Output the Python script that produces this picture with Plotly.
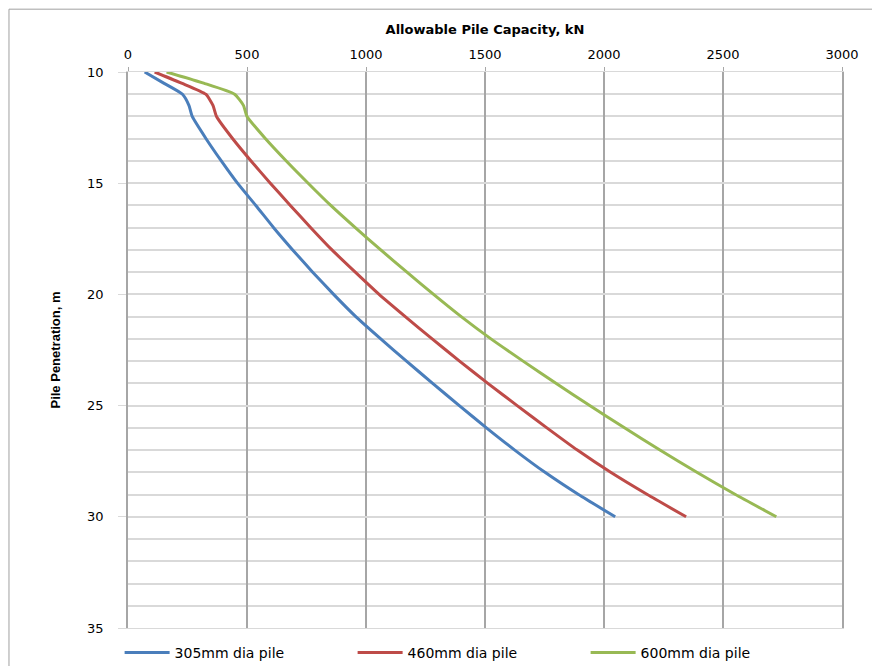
import plotly.graph_objects as go

depth_m = [10, 10.5, 11, 11.5, 12, 13, 14, 15, 16, 17, 18, 19, 20,
           21, 22, 23, 24, 25, 26, 27, 28, 29, 30]

cap_305 = [70, 150, 229, 256, 270, 328, 392, 460, 537, 612, 692, 776, 864,
           957, 1062, 1170, 1280, 1392, 1506, 1625, 1752, 1893, 2047]
cap_460 = [112, 225, 327, 357, 372, 440, 517, 598, 682, 768, 857, 955, 1055,
           1165, 1278, 1393, 1512, 1635, 1760, 1888, 2028, 2182, 2345]
cap_600 = [162, 318, 448, 485, 500, 578, 665, 757, 852, 955, 1062, 1172, 1284,
           1400, 1525, 1660, 1798, 1940, 2086, 2235, 2390, 2552, 2724]

series_names = ["305mm dia pile", "460mm dia pile", "600mm dia pile"]
series_values = [cap_305, cap_460, cap_600]
series_colors = ["#4A7EBB", "#BE4B48", "#98B954"]

x_ticks = [0, 500, 1000, 1500, 2000, 2500, 3000]
y_ticks = [10, 15, 20, 25, 30, 35]

fig = go.Figure()
for name, vals, col in zip(series_names, series_values, series_colors):
    fig.add_trace(go.Scatter(
        x=vals, y=depth_m, mode="lines", name=name,
        line=dict(color=col, width=3, shape="spline", smoothing=0.5),
    ))

tick_font = dict(family="DejaVu Sans, Verdana, sans-serif", size=13, color="#000000")

fig.update_layout(
    width=872, height=658,
    margin=dict(l=120, r=38, t=64, b=38),
    paper_bgcolor="white", plot_bgcolor="white",
    showlegend=True,
    legend=dict(
        orientation="h", xref="container", yref="container",
        x=0.128, y=0.02, xanchor="left", yanchor="middle",
        font=dict(family="DejaVu Sans, Verdana, sans-serif", size=14, color="#000000"),
        entrywidth=173, entrywidthmode="pixels",
        itemwidth=45, bgcolor="rgba(0,0,0,0)",
    ),
    xaxis=dict(
        side="top", range=[0, 3000], tickvals=x_ticks, automargin=False,
        showgrid=True, gridcolor="#A6A6A6", gridwidth=1.5,
        ticks="outside", ticklen=4, tickcolor="#A6A6A6",
        ticklabelstandoff=3,
        showline=True, linecolor="#D9D9D9", linewidth=1, mirror=True,
        zeroline=False, tickfont=tick_font,
        title=dict(text="<b>Allowable Pile Capacity, kN</b>",
                   font=dict(family="DejaVu Sans, Verdana, sans-serif", size=13, color="#000000"),
                   standoff=9),
    ),
    yaxis=dict(
        range=[35, 10], tickvals=y_ticks, automargin=False,
        showgrid=True, gridcolor="#D9D9D9", gridwidth=1.5,
        minor=dict(dtick=1, tick0=10, showgrid=True, gridcolor="#D9D9D9", gridwidth=1.5),
        ticks="outside", ticklen=8, tickcolor="#D9D9D9",
        ticklabelstandoff=12,
        showline=True, linecolor="#A6A6A6", linewidth=1.5, mirror=True,
        zeroline=False, tickfont=tick_font,
        title=dict(text="<b>Pile Penetration, m</b>",
                   font=dict(family="Liberation Sans Narrow, Arial Narrow, sans-serif", size=13, color="#000000"),
                   standoff=24),
    ),
    shapes=[dict(
        type="rect", xref="paper", yref="paper",
        x0=-0.1667, x1=1.0518, y0=-0.07, y1=1.113,
        line=dict(color="#A0A0A0", width=1), fillcolor="rgba(0,0,0,0)", layer="below",
    )],
)

fig.write_html("out.html")
